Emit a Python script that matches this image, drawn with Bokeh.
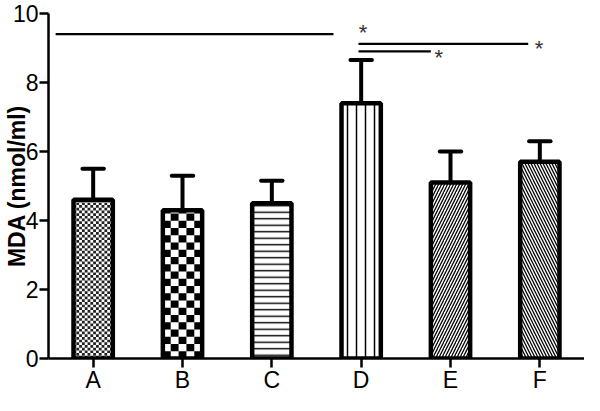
import numpy as np
from bokeh.plotting import figure
from bokeh.models import ColumnDataSource, FixedTicker, Range1d
from bokeh.core.properties import value
from bokeh.embed import file_html
from bokeh.resources import INLINE

# ---- data ----
categories = ["A", "B", "C", "D", "E", "F"]
means = [4.6, 4.3, 4.5, 7.4, 5.1, 5.7]
upper = [5.5, 5.3, 5.15, 8.65, 6.0, 6.3]
patterns = [" ", " ", "horizontal_line", "vertical_line", "right_diagonal_line", "left_diagonal_line"]
y_ticks = [0, 2, 4, 6, 8, 10]

# significance brackets (x in category units, y in data units)
sig_x0 = [0.08, 3.47, 3.47]
sig_x1 = [3.19, 5.37, 4.28]
sig_y = [9.4, 9.12, 8.9]
star_x = [3.52, 5.49, 4.37]
star_y = [9.45, 9.0, 8.72]

FONT = "Liberation Sans"
BAR_W = 0.44

xpos = [i + 0.5 for i in range(len(categories))]

p = figure(width=584, height=395, output_backend="svg", toolbar_location=None,
           x_range=Range1d(0, 6), y_range=Range1d(0, 10),
           min_border_left=46, min_border_right=0, min_border_top=13, min_border_bottom=10)
p.outline_line_color = None
p.grid.visible = False
p.background_fill_color = "white"

src = ColumnDataSource(dict(x=xpos, top=means, pat=patterns,
                            scale=[4, 8, 6.5, 9, 6, 6],
                            weight=[1, 1, 1.4, 1.5, 1.3, 1.3]))
p.vbar(x="x", top="top", width=BAR_W, bottom=0, source=src,
       fill_color="white", line_color=None,
       hatch_pattern="pat", hatch_color="black", hatch_scale="scale", hatch_weight="weight")


def checker(idx, ncols, dy, color):
    l, r, b, t = [], [], [], []
    cw = BAR_W / ncols
    row = 0
    yb = 0.0
    while yb < means[idx] - 1e-9:
        for c in range(ncols):
            if (row + c) % 2 == 0:
                x0 = xpos[idx] - BAR_W / 2 + c * cw
                l.append(x0); r.append(x0 + cw)
                b.append(yb); t.append(min(yb + dy, means[idx]))
        yb += dy
        row += 1
    p.quad(left=l, right=r, bottom=b, top=t, fill_color=color, line_color=None)


# fine dotted texture for A, checkerboard for B
checker(categories.index("A"), 14, 0.078, "#222222")
checker(categories.index("B"), 5, 0.21, "black")

# bar outlines
p.vbar(x=xpos, top=means, width=BAR_W, bottom=0, fill_color=None,
       line_color="black", line_width=4.5)

# error bars (upper only)
p.segment(x0=xpos, y0=means, x1=xpos, y1=upper, line_color="black", line_width=4)
p.segment(x0=[x - 0.12 for x in xpos], y0=upper, x1=[x + 0.12 for x in xpos], y1=upper,
          line_color="black", line_width=4, line_cap="round")

# significance lines
p.segment(x0=sig_x0, y0=sig_y, x1=sig_x1, y1=sig_y, line_color="black", line_width=2.2)
p.text(x=star_x, y=star_y, text=["*"] * 3, text_font=value(FONT), text_font_size="22px",
       text_color="#333333", text_align="center", text_baseline="middle")

# axes
p.xaxis.ticker = FixedTicker(ticks=xpos)
p.xaxis.major_label_overrides = {x: c for x, c in zip(xpos, categories)}
p.yaxis.ticker = FixedTicker(ticks=y_ticks)
for ax in (p.xaxis, p.yaxis):
    ax.axis_line_width = 2.5
    ax.axis_line_color = "black"
    ax.major_tick_line_color = "black"
    ax.major_tick_line_width = 2.5
    ax.major_tick_out = 9
    ax.major_tick_in = 0
    ax.minor_tick_line_color = None
    ax.major_label_text_font = FONT
    ax.major_label_text_font_size = "23px"
    ax.major_label_text_color = "black"
    ax.major_label_standoff = 1
p.xaxis.major_label_standoff = -1
p.yaxis.axis_label = "MDA (nmol/ml)"
p.yaxis.axis_label_text_font = FONT
p.yaxis.axis_label_text_font_size = "23px"
p.yaxis.axis_label_text_font_style = "bold"
p.yaxis.axis_label_text_color = "black"
p.yaxis.axis_label_standoff = -20

open("out.html", "w").write(file_html(p, INLINE))
